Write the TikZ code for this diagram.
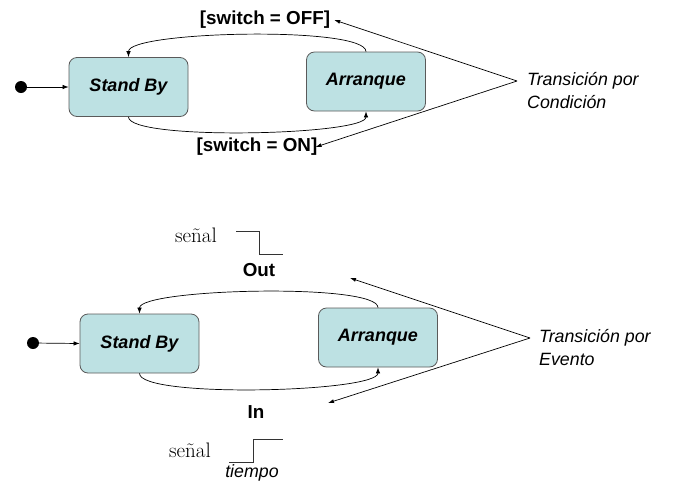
\documentclass[tikz,border=0pt]{standalone}
\usepackage{fontspec}
\setsansfont{Liberation Sans}
\usetikzlibrary{arrows.meta}
\definecolor{stfill}{HTML}{BDE1E3}
\definecolor{stdraw}{HTML}{5A5A5A}
\tikzset{
  state/.style={draw=stdraw, fill=stfill, rounded corners=8pt, minimum width=119pt, minimum height=59pt, line width=0.8pt, font=\fontsize{18}{20}\selectfont\sffamily\bfseries\itshape},
  guard/.style={font=\fontsize{18.8}{20}\selectfont\sffamily\bfseries, inner sep=0pt},
  note/.style={font=\fontsize{17.8}{23}\selectfont\sffamily\itshape, align=left, anchor=west, inner sep=0pt},
  tr/.style={line width=0.7pt, -{Latex[length=6pt,width=4.5pt]}},
  ptr/.style={line width=0.7pt, -{Latex[length=6pt,width=4pt]}},
  initdot/.style={circle, fill=black, inner sep=0pt, minimum size=12pt},
  sig/.style={line width=0.6pt, draw=black!80},
  serif/.style={font=\fontsize{21}{22}\selectfont\rmfamily, inner sep=0pt}
}
\begin{document}
\begin{tikzpicture}[x=1pt,y=-1pt]
\useasboundingbox (0,0) rectangle (673,483);
% ---------- top diagram ----------
\node[initdot] (d1) at (21,87) {};
\node[state] (sb1) at (128.5,87) {Stand By};
\node[state] (arr1) at (366,81.5) {Arranque};
\node[guard] (off) at (265,20) {[switch = OFF]};
\node[guard] (on) at (257,147) {[switch = ON]};
\node[note] (t1) at (527,91) {Transición por\\Condición};
\coordinate (c1) at (517,81);
\draw[tr] (d1) -- (sb1.west);
\draw[tr] (arr1.north) .. controls +(0,-26) and +(0,-26) .. (sb1.north);
\draw[tr] (sb1.south) .. controls +(0,24) and +(0,24) .. (arr1.south);
\draw[ptr] (c1) -- ([xshift=4pt]off.east);
\draw[ptr] (c1) -- ([xshift=-2pt]on.east);
% ---------- bottom diagram ----------
\node[initdot] (d2) at (33,343) {};
\node[state] (sb2) at (139.5,343.5) {Stand By};
\node[state] (arr2) at (378,337.5) {Arranque};
\node[guard] (out) at (259,270) {Out};
\node[guard] (in) at (256,412) {In};
\node[note] (t2) at (539,348) {Transición por\\Evento};
\coordinate (c2) at (530,338);
\coordinate (e1) at (350,278);
\coordinate (e2) at (328,403);
\draw[tr] (d2) -- (sb2.west);
\draw[tr] (arr2.north) .. controls +(0,-25) and +(0,-25) .. (sb2.north);
\draw[tr] (sb2.south) .. controls +(0,25) and +(0,25) .. (arr2.south);
\draw[ptr] (c2) -- (e1);
\draw[ptr] (c2) -- (e2);
% signals
\node[serif] (s1) at (196,235) {señal};
\draw[sig] (236,231) -- (259,231) -- (259,254) -- (283,254);
\node[serif] (s2) at (190,450) {señal};
\draw[sig] (229,462) -- (253,462) -- (253,439) -- (283,439);
\node[font=\fontsize{17.8}{20}\selectfont\sffamily\itshape, inner sep=0pt] (tp) at (252,473) {tiempo};
\end{tikzpicture}
\end{document}
